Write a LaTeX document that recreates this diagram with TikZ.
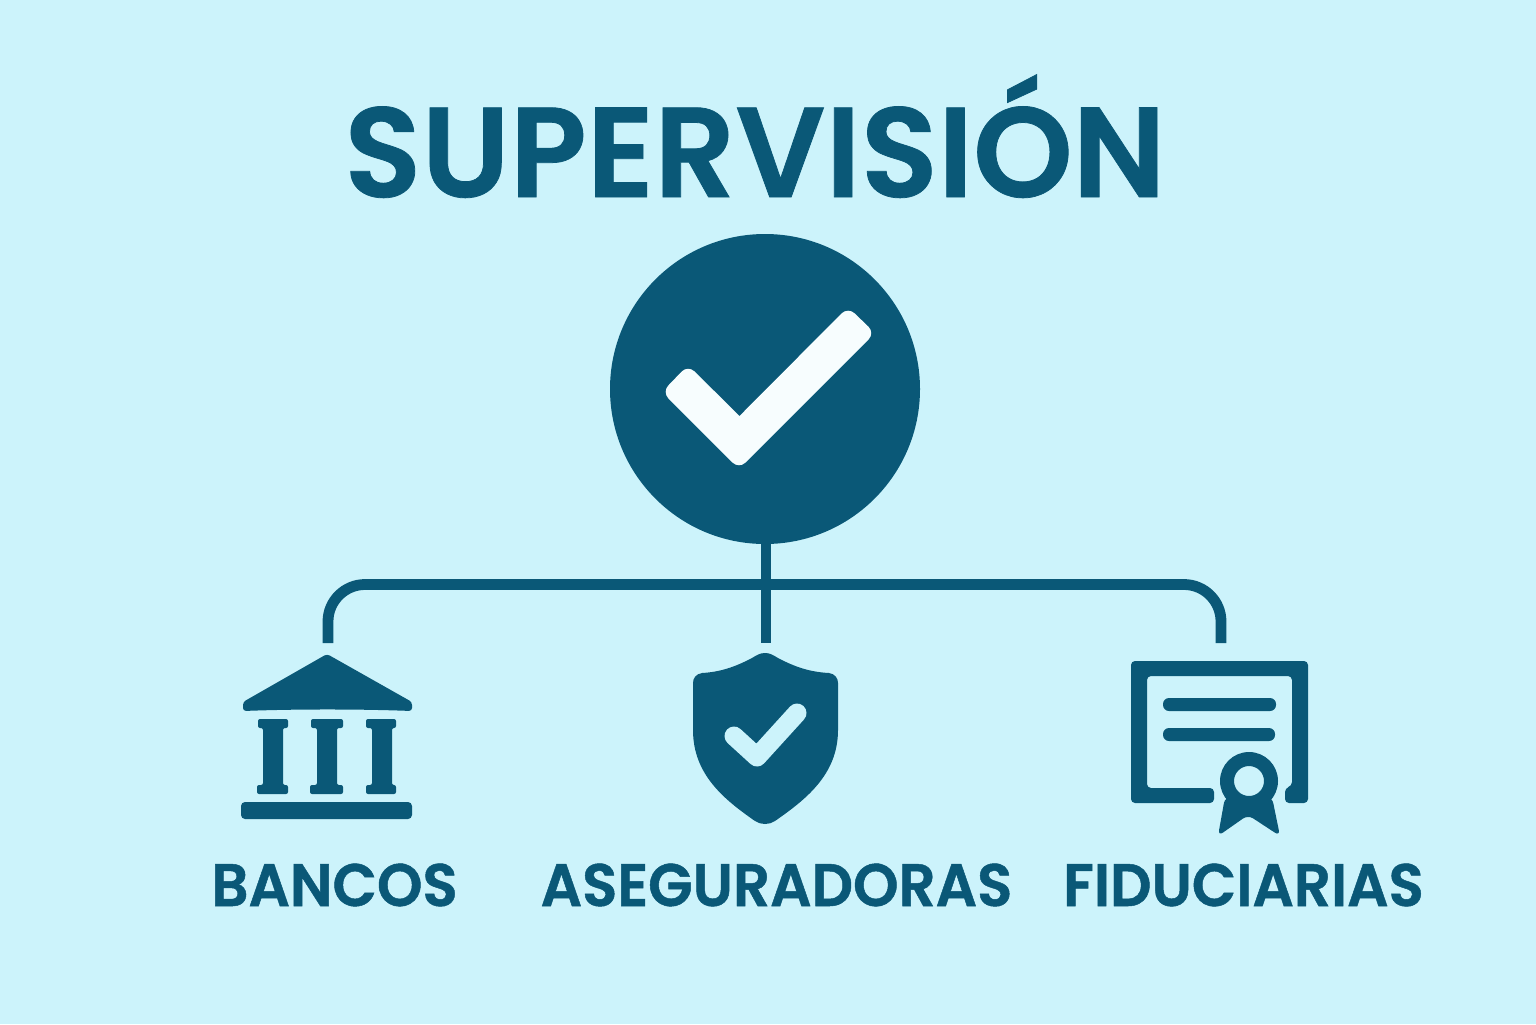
\documentclass[tikz,border=0pt]{standalone}
\usepackage{fontspec}
\setmainfont{Poppins}
\newfontfamily\titlefont{Poppins SemiBold}[FakeBold=0.6,FakeStretch=0.99]
\newfontfamily\labelfont{Poppins SemiBold}[FakeBold=0.8,FakeStretch=0.965]
\definecolor{bgc}{HTML}{CCF3FB}
\definecolor{ink}{HTML}{0A5877}
\definecolor{chk}{HTML}{F7FDFE}
\tikzset{
  conn/.style={draw=ink,line width=5.4pt},
  title/.style={text=ink,inner sep=0pt,anchor=base,font=\titlefont\fontsize{64}{70}\selectfont},
  lab/.style={text=ink,inner sep=0pt,anchor=base,font=\labelfont\fontsize{30}{34}\selectfont},
  hub/.style={circle,fill=ink,minimum size=155pt,inner sep=0pt}
}
\begin{document}
\begin{tikzpicture}[x=0.5pt,y=-0.5pt]
\useasboundingbox (0,0) rectangle (1536,1024);
\fill[bgc] (0,0) rectangle (1536,1024);
\node[title] (ttl) at (755,197) {SUPERVISIÓN};
\node[hub] (hub) at (765,389) {};
\fill[chk,rounded corners=4.5pt] (688,365) [sharp corners] -- (739.5,416) [rounded corners=4.5pt] -- (848,307) -- (875,333) -- (739,469) -- (662,392) -- cycle;
\coordinate (joint) at (766,584.5);
\coordinate (bk) at (328,643);
\coordinate (sh) at (766,643);
\coordinate (ce) at (1221,643);
\draw[conn] (sh |- hub.south) -- (sh);
\draw[conn,rounded corners=18.5pt] (bk) |- (joint) -| (ce);
% bank
\fill[ink,rounded corners=1.5pt] (327,654) -- (412,702) -- (412,711) .. controls (360,709) and (295,709) .. (243,711) -- (243,702) -- cycle;
\foreach \a/\b/\c/\d/\e/\f in {258/288/263/283/257/288,311/343/317/337/310/343,366/396/372/392/366/396}{
  \fill[ink,rounded corners=1pt] (\a,719) -- (\b,719) -- (\b,728) -- (\d,728) -- (\d,785) -- (\f,785) -- (\f,794) -- (\e,794) -- (\e,785) -- (\c,785) -- (\c,728) -- (\a,728) -- cycle;
}
\fill[ink,rounded corners=2pt] (241,802) rectangle (412,819);
% shield
\fill[ink] (765,653) .. controls (770,653) and (773,655) .. (778,658)
  .. controls (795,667) and (810,672) .. (829,673)
  .. controls (835,674) and (838,678) .. (838,683) -- (838,730)
  .. controls (838,775) and (805,800) .. (775,821)
  .. controls (769,825) and (761,825) .. (755,821)
  .. controls (725,800) and (693,775) .. (693,730) -- (693,683)
  .. controls (693,678) and (696,674) .. (702,673)
  .. controls (720,672) and (735,667) .. (752,658)
  .. controls (757,655) and (760,653) .. (765,653) -- cycle;
\draw[bgc,line width=9.5pt,line cap=round,line join=round] (734,736) -- (757,757) -- (797,713);
% certificate
\fill[ink,rounded corners=2pt] (1131,661) -- (1308,661) -- (1308,803) -- (1285,803) -- (1285,788) -- (1292,786) -- (1292,676) -- (1147,676) -- (1147,788) -- (1214,788) -- (1214,803) -- (1131,803) -- cycle;
\fill[ink,rounded corners=3pt] (1163,698) rectangle (1276,711);
\fill[ink,rounded corners=3pt] (1163,728) rectangle (1275,741);
\fill[ink,rounded corners=3pt] (1225,797) -- (1218,836) -- (1248,815) -- (1280,836) -- (1272,797) -- cycle;
\fill[ink,even odd rule] (1249,781) circle[radius=29] (1249,781) circle[radius=15];
% labels
\node[lab] (l1) at (334.5,906) {BANCOS};
\node[lab] (l2) at (776.5,906) {ASEGURADORAS};
\node[lab] (l3) at (1243.5,906) {FIDUCIARIAS};
\end{tikzpicture}
\end{document}
